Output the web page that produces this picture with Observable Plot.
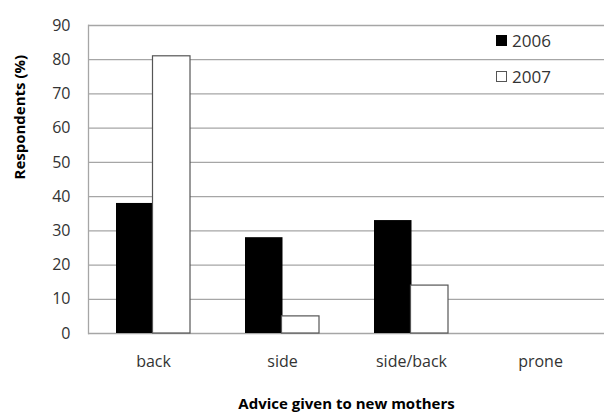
<!DOCTYPE html>
<html>
<head>
<meta charset="utf-8">
<script src="https://cdn.jsdelivr.net/npm/d3@7"></script>
<script src="https://cdn.jsdelivr.net/npm/@observablehq/plot@0.6"></script>
<style>
  html, body { margin: 0; padding: 0; background: #fff; }
  #wrap { position: relative; width: 604px; height: 414px; }
  .legend { position: absolute; left: 496px; font: 17px "Open Sans", sans-serif; color: #333; display: flex; align-items: center; line-height: 17px; }
  .sw { width: 11px; height: 11px; margin-right: 5px; box-sizing: border-box; }
</style>
</head>
<body>
<div id="wrap"></div>
<script>
const categories = ["back", "side", "side/back", "prone"];
const values2006 = [38, 28, 33, 0];
const values2007 = [81, 5, 14, 0];
const yTicks = [0, 10, 20, 30, 40, 50, 60, 70, 80, 90];
const yLabel = "Respondents (%)";
const xLabel = "Advice given to new mothers";
const seriesNames = ["2006", "2007"];

const d06 = categories.map((c, i) => ({cat: c, value: values2006[i]}));
const d07 = categories.map((c, i) => ({cat: c, value: values2007[i]}));

const chart = Plot.plot({
  width: 604,
  height: 414,
  marginLeft: 88,
  marginRight: 0,
  marginTop: 25,
  marginBottom: 81,
  style: {fontFamily: "'Open Sans', sans-serif", fontSize: "16px", color: "#333", background: "#fff"},
  x: {domain: categories, paddingInner: 0.43, paddingOuter: 0.215, label: null},
  y: {domain: [0, 90], label: null},
  marks: [
    Plot.ruleY(yTicks, {stroke: "#a6a6a6", strokeWidth: 1.3}),
    Plot.frame({anchor: "left", stroke: "#a6a6a6", strokeWidth: 1.3}),
    Plot.barY(d06, {x: "cat", y: "value", fill: "#000", inset: 0, insetRight: 36.5}),
    Plot.barY(d07.filter(d => d.value > 0), {x: "cat", y: "value", fill: "#fff", stroke: "#555", strokeWidth: 1.2, inset: 0, insetLeft: 36.5}),
    Plot.axisY({ticks: yTicks, tickSize: 0, tickPadding: 18, label: null, fontSize: 16}),
    Plot.axisX({tickSize: 0, tickPadding: 22, label: null, fontSize: 16}),
    Plot.text([yLabel], {frameAnchor: "left", rotate: -90, dx: -68, fontWeight: "bold", fontSize: 15, fill: "#000"}),
    Plot.text([xLabel], {frameAnchor: "bottom", dy: 75, fontWeight: "bold", fontSize: 15, fill: "#000"})
  ]
});
const wrap = document.getElementById("wrap");
wrap.appendChild(chart);

const legendTops = [32, 68];
seriesNames.forEach((name, i) => {
  const el = document.createElement("div");
  el.className = "legend";
  el.style.top = legendTops[i] + "px";
  const sw = document.createElement("div");
  sw.className = "sw";
  sw.style.background = i === 0 ? "#000" : "#fff";
  sw.style.border = i === 0 ? "none" : "1px solid #555";
  el.appendChild(sw);
  const t = document.createElement("span");
  t.textContent = name;
  el.appendChild(t);
  wrap.appendChild(el);
});
</script>
</body>
</html>
